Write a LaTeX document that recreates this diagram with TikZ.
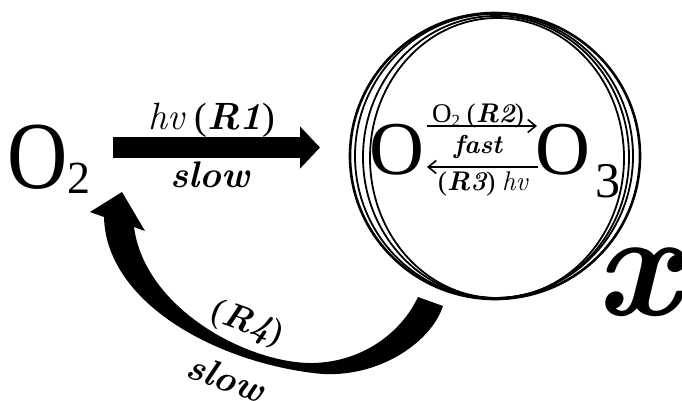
\documentclass[tikz,border=0pt]{standalone}
\usepackage{fontspec}
\usepackage{graphicx}
\setmainfont{Liberation Serif}
\newcommand\myIt[1]{{\fontfamily{lmr}\fontshape{it}\selectfont #1}}
\newcommand\myBI[1]{{\fontfamily{lmr}\fontseries{bx}\fontshape{it}\selectfont #1}}
\usetikzlibrary{arrows.meta}
\begin{document}
\begin{tikzpicture}[x=1pt,y=-1pt,
  lbl/.style={inner sep=0pt, anchor=base},
  ring/.style={line width=1.8pt},
  smallarrow/.style={line width=1.6pt, -{Straight Barb[length=8pt,width=13pt,line width=1.6pt]}},
  bigarrow/.style={line width=21pt, -{Triangle[length=20pt,width=41pt]}}]
\useasboundingbox (0,0) rectangle (682,400);
% rings
\draw[ring, line width=2.6pt] (495,156) ellipse [x radius=145, y radius=143];
\draw[ring] (494,156) ellipse [x radius=139, y radius=142];
\draw[ring] (496,157) ellipse [x radius=133, y radius=141];
\draw[ring] (497,158) ellipse [x radius=127, y radius=140];
% big O2
\node[lbl, anchor=base west] (o2) at (7,188) {\fontsize{96}{96}\selectfont\scalebox{0.87}[1]{O}\raisebox{-5pt}{\fontsize{46}{46}\selectfont 2}};
% R1 arrow
\coordinate (r1s) at (113,147.5);
\coordinate (r1e) at (320,147.5);
\draw[bigarrow] (r1s) -- (r1e);
\node[lbl] (r1) at (212,129) {\fontsize{38}{38}\selectfont\myIt{hv} (\myBI{R1})};
\node[lbl] (slow1) at (210,187) {\fontsize{37}{37}\selectfont\myBI{slow}};
% inner species
\node[lbl, anchor=base west] (oin) at (369,174) {\fontsize{76}{76}\selectfont O};
\node[lbl, anchor=base west] (o3) at (535,174) {\fontsize{76}{76}\selectfont O\kern5pt\raisebox{-23pt}{\fontsize{50}{50}\selectfont 3}};
\coordinate (ta) at (427,126);
\coordinate (tb) at (537,126);
\coordinate (ba) at (538,167);
\coordinate (bb) at (427,167);
\draw[smallarrow] (ta) -- (tb);
\draw[smallarrow] (ba) -- (bb);
\node[lbl] (r2) at (478,122) {\fontsize{27}{27}\selectfont O\raisebox{-4pt}{\fontsize{17}{17}\selectfont 2} (\myBI{R2})};
\node[lbl] (fast) at (478,153) {\fontsize{26}{26}\selectfont\myBI{fast}};
\node[lbl] (r3) at (483,190) {\fontsize{27}{27}\selectfont(\myBI{R3}) \myIt{hv}};
% x
\node[lbl, anchor=base west] (xx) at (595,315) {\fontsize{150}{150}\selectfont\myBI{x}};
% R4 curved arrow
\fill (104,217) .. controls (106,300) and (210,360) .. (313,373)
  .. controls (373,381) and (430,345) .. (443,306) -- (418,297)
  .. controls (400,335) and (360,362) .. (313,363)
  .. controls (250,364) and (145,310) .. (134,227)
  -- (145,231) -- (122,192) -- (90,212) -- cycle;
\node[inner sep=0pt, rotate=-20] (r4) at (247,324) {\fontsize{35}{35}\selectfont(\myBI{R4})};
\node[inner sep=0pt, rotate=-20] (slow2) at (226,378) {\fontsize{37}{37}\selectfont\myBI{slow}};
\end{tikzpicture}
\end{document}
